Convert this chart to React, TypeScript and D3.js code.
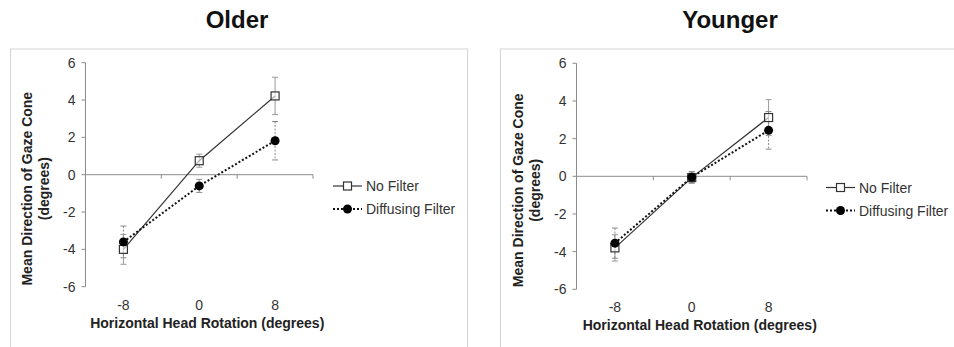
import React from "react";
import * as d3 from "d3";

const categories = ["-8", "0", "8"];
const yTicks = [-6, -4, -2, 0, 2, 4, 6];
const panelTitles = ["Older", "Younger"];
const seriesNames = ["No Filter", "Diffusing Filter"];

const olderNoFilter = [-4.0, 0.75, 4.22];
const olderNoFilterErr = [0.8, 0.35, 1.0];
const olderDiffusing = [-3.6, -0.6, 1.82];
const olderDiffusingErr = [0.85, 0.35, 1.03];

const youngerNoFilter = [-3.8, -0.07, 3.12];
const youngerNoFilterErr = [0.7, 0.3, 0.95];
const youngerDiffusing = [-3.55, -0.05, 2.44];
const youngerDiffusingErr = [0.8, 0.3, 1.0];

const FONT = "'Liberation Sans', Arial, sans-serif";

type PanelLayout = {
  boxX: number;
  boxW: number;
  titleX: number;
  x0: number;
  x1: number;
  yTop: number;
  yBot: number;
  legendX: number;
  legendY: number;
};

function Panel({
  layout,
  title,
  noF,
  noFErr,
  dif,
  difErr,
}: {
  layout: PanelLayout;
  title: string;
  noF: number[];
  noFErr: number[];
  dif: number[];
  difErr: number[];
}) {
  const x = d3.scaleBand<string>().domain(categories).range([layout.x0, layout.x1]);
  const y = d3.scaleLinear().domain([-6, 6]).range([layout.yBot, layout.yTop]);
  const cx = (c: string) => (x(c) as number) + x.bandwidth() / 2;
  const line = d3
    .line<number>()
    .x((_, i) => cx(categories[i]))
    .y((d) => y(d));
  const y0 = y(0);
  const axisColor = "#8c8c8c";
  const midY = (layout.yTop + layout.yBot) / 2;

  return (
    <g>
      <text
        x={layout.titleX}
        y={28}
        textAnchor="middle"
        fontFamily={FONT}
        fontWeight="bold"
        fontSize={24}
        fill="#111"
      >
        {title}
      </text>
      <rect
        x={layout.boxX}
        y={49}
        width={layout.boxW}
        height={320}
        fill="white"
        stroke="#d4d4d4"
        strokeWidth={1}
      />
      {/* y axis */}
      <line x1={layout.x0} x2={layout.x0} y1={layout.yTop} y2={layout.yBot} stroke={axisColor} />
      {yTicks.map((t) => (
        <g key={t}>
          <line x1={layout.x0 - 4} x2={layout.x0} y1={y(t)} y2={y(t)} stroke={axisColor} />
          <text
            x={layout.x0 - 10}
            y={y(t) + 5}
            textAnchor="end"
            fontFamily={FONT}
            fontSize={14}
            fill="#333"
          >
            {t}
          </text>
        </g>
      ))}
      {/* x axis at 0 */}
      <line x1={layout.x0} x2={layout.x1} y1={y0} y2={y0} stroke={axisColor} />
      {categories.map((c) => (
        <g key={c}>
          <line
            x1={(x(c) as number) + x.bandwidth()}
            x2={(x(c) as number) + x.bandwidth()}
            y1={y0}
            y2={y0 + 4}
            stroke={axisColor}
          />
          <text
            x={cx(c)}
            y={layout.yBot + 23}
            textAnchor="middle"
            fontFamily={FONT}
            fontSize={14}
            fill="#333"
          >
            {c}
          </text>
        </g>
      ))}
      {/* axis titles */}
      <text
        x={(layout.x0 + layout.x1) / 2 + 8}
        y={layout.yBot + 41}
        textAnchor="middle"
        fontFamily={FONT}
        fontWeight="bold"
        fontSize={14}
        fill="#222"
      >
        Horizontal Head Rotation (degrees)
      </text>
      <text
        transform={`translate(${layout.x0 - 54},${midY + 14}) rotate(-90)`}
        textAnchor="middle"
        fontFamily={FONT}
        fontWeight="bold"
        fontSize={14}
        fill="#222"
      >
        <tspan x={0} dy={0}>Mean Direction of Gaze Cone</tspan>
        <tspan x={0} dy={17}>(degrees)</tspan>
      </text>
      {/* error bars no filter */}
      {noF.map((v, i) => {
        const px = cx(categories[i]);
        return (
          <g key={"ne" + i} stroke="#9a9a9a" strokeWidth={1}>
            <line x1={px} x2={px} y1={y(v + noFErr[i])} y2={y(v - noFErr[i])} />
            <line x1={px - 3} x2={px + 3} y1={y(v + noFErr[i])} y2={y(v + noFErr[i])} />
            <line x1={px - 3} x2={px + 3} y1={y(v - noFErr[i])} y2={y(v - noFErr[i])} />
          </g>
        );
      })}
      {/* error bars diffusing */}
      {dif.map((v, i) => {
        const px = cx(categories[i]);
        return (
          <g key={"de" + i} stroke="#8a8a8a" strokeWidth={1}>
            <line
              x1={px}
              x2={px}
              y1={y(v + difErr[i])}
              y2={y(v - difErr[i])}
              strokeDasharray="2,1.5"
            />
            <line x1={px - 3} x2={px + 3} y1={y(v + difErr[i])} y2={y(v + difErr[i])} />
            <line x1={px - 3} x2={px + 3} y1={y(v - difErr[i])} y2={y(v - difErr[i])} />
          </g>
        );
      })}
      {/* lines */}
      <path d={line(noF) as string} fill="none" stroke="#333" strokeWidth={1.2} />
      <path
        d={line(dif) as string}
        fill="none"
        stroke="#111"
        strokeWidth={2}
        strokeDasharray="2,2"
      />
      {/* markers */}
      {noF.map((v, i) => (
        <rect
          key={"nm" + i}
          x={cx(categories[i]) - 4}
          y={y(v) - 4}
          width={8}
          height={8}
          fill="white"
          fillOpacity={0.6}
          stroke="#333"
          strokeWidth={1.2}
        />
      ))}
      {dif.map((v, i) => (
        <circle key={"dm" + i} cx={cx(categories[i])} cy={y(v)} r={4.5} fill="#000" />
      ))}
      {/* legend */}
      <g fontFamily={FONT} fontSize={14} fill="#333">
        <line
          x1={layout.legendX}
          x2={layout.legendX + 29}
          y1={layout.legendY}
          y2={layout.legendY}
          stroke="#333"
          strokeWidth={1.2}
        />
        <rect
          x={layout.legendX + 10.5}
          y={layout.legendY - 4}
          width={8}
          height={8}
          fill="white"
          stroke="#333"
          strokeWidth={1.2}
        />
        <text x={layout.legendX + 33} y={layout.legendY + 5}>
          {seriesNames[0]}
        </text>
        <line
          x1={layout.legendX}
          x2={layout.legendX + 29}
          y1={layout.legendY + 23}
          y2={layout.legendY + 23}
          stroke="#111"
          strokeWidth={2}
          strokeDasharray="2,2"
        />
        <circle cx={layout.legendX + 14.5} cy={layout.legendY + 23} r={4.5} fill="#000" />
        <text x={layout.legendX + 33} y={layout.legendY + 28}>
          {seriesNames[1]}
        </text>
      </g>
    </g>
  );
}

export default function App() {
  const left: PanelLayout = {
    boxX: 10.5,
    boxW: 457,
    titleX: 237,
    x0: 85.5,
    x1: 313,
    yTop: 62.7,
    yBot: 286.7,
    legendX: 333,
    legendY: 186,
  };
  const right: PanelLayout = {
    boxX: 500.5,
    boxW: 470,
    titleX: 730,
    x0: 576.5,
    x1: 807,
    yTop: 63.3,
    yBot: 289.3,
    legendX: 826,
    legendY: 187.5,
  };
  return (
    <svg
      width={954}
      height={347}
      style={{ position: "absolute", left: 0, top: 0, background: "white" }}
    >
      <rect x={0} y={0} width={954} height={347} fill="white" />
      <Panel
        layout={left}
        title={panelTitles[0]}
        noF={olderNoFilter}
        noFErr={olderNoFilterErr}
        dif={olderDiffusing}
        difErr={olderDiffusingErr}
      />
      <Panel
        layout={right}
        title={panelTitles[1]}
        noF={youngerNoFilter}
        noFErr={youngerNoFilterErr}
        dif={youngerDiffusing}
        difErr={youngerDiffusingErr}
      />
    </svg>
  );
}
